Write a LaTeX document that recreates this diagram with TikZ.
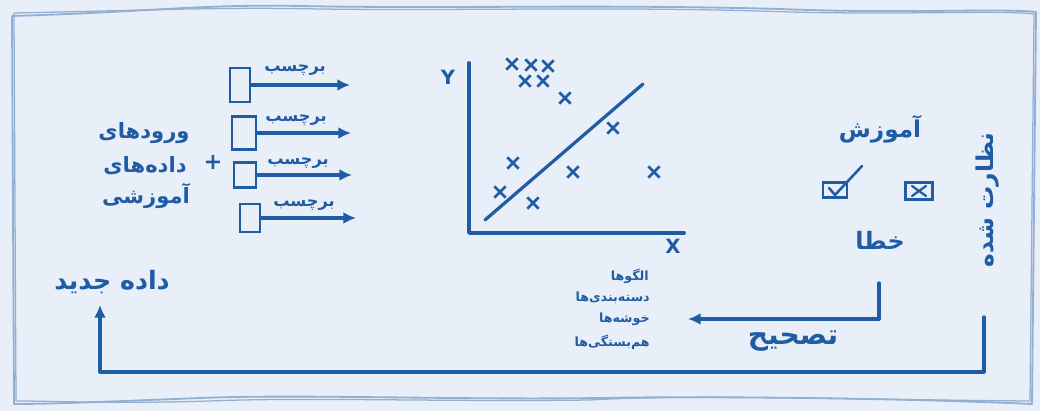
\documentclass[tikz,border=0pt]{standalone}
\usepackage{fontspec}
\usetikzlibrary{arrows.meta,calc,shapes.misc}
\newfontfamily\fa[Script=Arabic]{DejaVu Sans}
\newfontfamily\lat{DejaVu Sans}
\TeXXeTstate=1
\definecolor{ink}{HTML}{1F5CA3}
\definecolor{bgc}{HTML}{E9EFF8}
\definecolor{framec}{HTML}{93B0D2}
\newcommand{\fatxt}[1]{\beginR #1\endR}
\newcommand{\fsz}[1]{\fontsize{#1}{#1}\selectfont}
\begin{document}
\begin{tikzpicture}[x=0.025cm,y=-0.025cm,
  inkline/.style={draw=ink, line width=2.3pt, line cap=round, line join=round},
  tipped/.style={inkline, -{Latex[length=9pt,width=8.5pt]}},
  bigtxt/.style={text=ink, font=\fa\bfseries\fsz{15}, inner sep=0pt},
  midtxt/.style={text=ink, font=\fa\bfseries\fsz{11.5}, inner sep=0pt},
  smalltxt/.style={text=ink, font=\fa\bfseries\fsz{9}, inner sep=0pt, anchor=east},
  labelbox/.style={draw=ink, line width=2.1pt, inner sep=0pt},
  xmark/.style={cross out, draw=ink, line width=1.9pt, inner sep=0pt, minimum size=0.22cm},
  framepath/.style={draw=framec, line width=1.3pt, line join=round}
]
\fill[bgc] (0,0) rectangle (1040,411);
\useasboundingbox (0,0) rectangle (1040,411);
% outer sketchy frame
\draw[framepath] (12,16) .. controls (150,12) and (200,4) .. (300,6) .. controls (450,9) and (600,4) .. (780,9) .. controls (900,14) and (1000,8) .. (1036,12) -- (1032,404) .. controls (900,398) and (700,396) .. (600,398) .. controls (450,400) and (300,394) .. (200,398) .. controls (100,402) and (50,404) .. (14,404) -- cycle;
\draw[framepath, line width=0.9pt] (14,13) .. controls (160,10) and (220,7) .. (320,9) .. controls (470,11) and (620,6) .. (790,12) .. controls (910,15) and (1000,10) .. (1034,14) -- (1030,401) .. controls (880,400) and (690,394) .. (590,400) .. controls (440,402) and (310,397) .. (210,401) .. controls (110,404) and (60,401) .. (16,401) -- cycle;

% left text
\node[bigtxt] (in1) at (144,133) {\fatxt{ورودهای}};
\node[bigtxt] (in2) at (145,166) {\fatxt{داده‌های}};
\node[bigtxt] (in3) at (146,196) {\fatxt{آموزشی}};
\node[text=ink, font=\lat\bfseries\fsz{16}, inner sep=0pt] (plus) at (213,162) {+};

% label boxes and arrows
\node[labelbox, minimum width=0.5cm, minimum height=0.85cm] (b1) at (240,85) {};
\node[labelbox, minimum width=0.6cm, minimum height=0.82cm] (b2) at (244,133) {};
\node[labelbox, minimum width=0.55cm, minimum height=0.62cm] (b3) at (245,175) {};
\node[labelbox, minimum width=0.5cm, minimum height=0.7cm] (b4) at (250,218) {};
\coordinate (a1) at (350,85);
\coordinate (a2) at (351,133);
\coordinate (a3) at (352,175);
\coordinate (a4) at (356,218);
\draw[tipped] (b1.east) -- (a1);
\draw[tipped] (b2.east) -- (a2);
\draw[tipped] (b3.east) -- (a3);
\draw[tipped] (b4.east) -- (a4);
\node[midtxt] (l1) at (295,70) {\fatxt{برچسب}};
\node[midtxt] (l2) at (296,120) {\fatxt{برچسب}};
\node[midtxt] (l3) at (298,163) {\fatxt{برچسب}};
\node[midtxt] (l4) at (304,205) {\fatxt{برچسب}};

% scatter plot
\coordinate (yt) at (469,63);
\coordinate (org) at (469,233);
\coordinate (xe) at (684,233);
\draw[inkline, line width=2.7pt] (yt) -- (org) -- (xe);
\node[text=ink, font=\lat\bfseries\fsz{14}, inner sep=0pt] (ylab) at (448,77) {Y};
\node[text=ink, font=\lat\bfseries\fsz{14}, inner sep=0pt] (xlab) at (673,246) {X};
\coordinate (r1) at (485,220);
\coordinate (r2) at (643,84);
\draw[inkline] (r1) -- (r2);
\foreach \px/\py [count=\i] in {512/64,531/65,548/66,525/81,543/81,565/98,613/128,513/163,573/172,654/172,500/192,533/203}
  \node[xmark] (m\i) at (\px,\py) {};

% training / error
\node[bigtxt, font=\fa\bfseries\fsz{16.5}] (train) at (880,129) {\fatxt{آموزش}};
\node[labelbox, line width=1.9pt, minimum width=0.6cm, minimum height=0.38cm] (okbox) at (835,190) {};
\draw[inkline, line width=1.8pt] (829,188) -- (835,195) -- (862,166);
\node[labelbox, line width=1.9pt, minimum width=0.68cm, minimum height=0.42cm] (nobox) at (919,191) {};
\draw[inkline, line width=1.6pt] (912,186) -- (926,196) (912,196) -- (926,186);
\node[bigtxt, font=\fa\bfseries\fsz{17}] (err) at (880,240) {\fatxt{خطا}};
\node[bigtxt, font=\fa\bfseries\fsz{16.5}, rotate=90] (sup) at (988,200) {\fatxt{نظارت شده}};

% outputs list
\node[smalltxt] (o1) at (649,276) {\fatxt{الگوها}};
\node[smalltxt] (o2) at (650,298) {\fatxt{دسته‌بندی‌ها}};
\node[smalltxt] (o3) at (650,319) {\fatxt{خوشه‌ها}};
\node[smalltxt] (o4) at (650,342) {\fatxt{هم‌بستگی‌ها}};

% correction arrow
\coordinate (e1) at (879,283);
\coordinate (e2) at (688,319);
\draw[tipped] (e1) |- (e2);
\node[bigtxt, font=\fa\bfseries\fsz{20}] (corr) at (793,341) {\fatxt{تصحیح}};

% big loop to new data
\node[bigtxt, font=\fa\bfseries\fsz{18}] (newd) at (112,282) {\fatxt{داده جدید}};
\coordinate (s1) at (984,317);
\coordinate (bot) at (0,372);
\coordinate (s2) at (100,305);
\draw[tipped] (s1) -- (s1 |- bot) -- (s2 |- bot) -- (s2);
\end{tikzpicture}
\end{document}
